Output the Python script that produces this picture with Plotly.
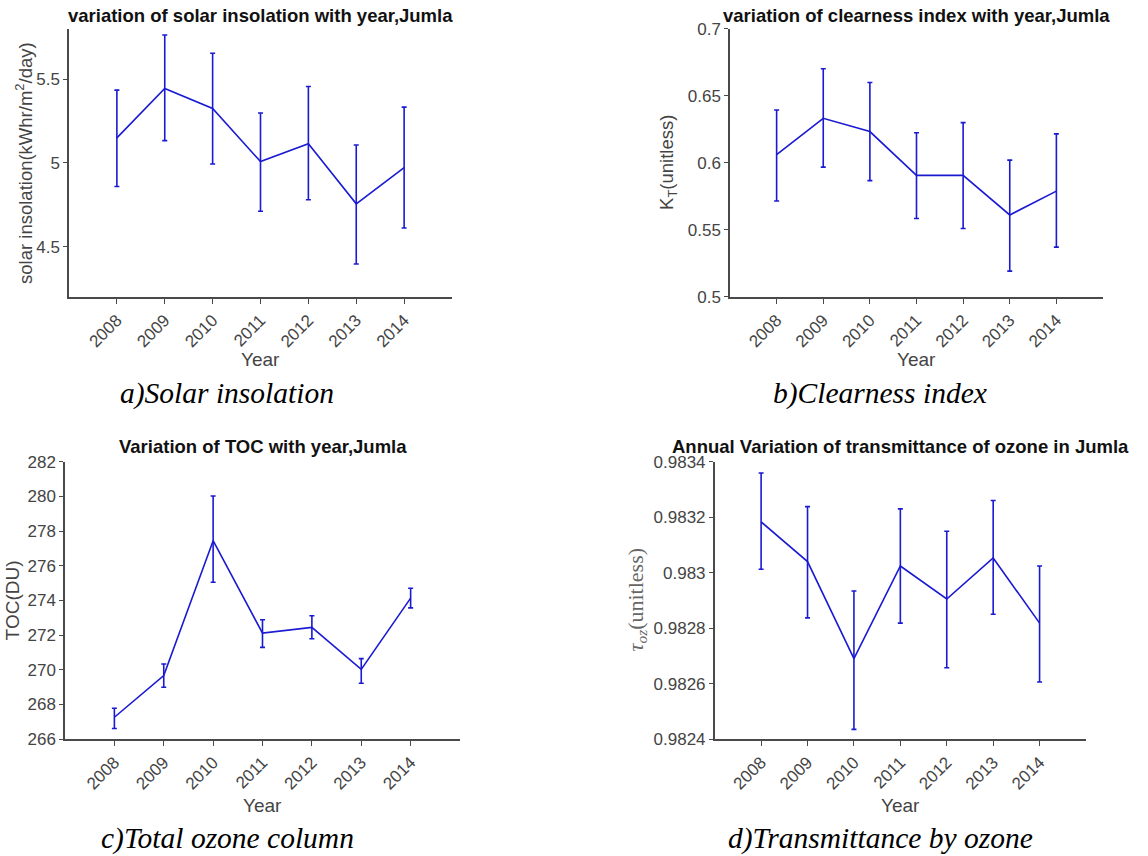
import plotly.graph_objects as go

W, H = 1148, 856

years = [2008, 2009, 2010, 2011, 2012, 2013, 2014]

# a) solar insolation
a_mean = [5.150, 5.445, 5.325, 5.008, 5.115, 4.756, 4.972]
a_upper = [5.435, 5.764, 5.655, 5.298, 5.456, 5.107, 5.333]
a_lower = [4.859, 5.133, 4.994, 4.712, 4.780, 4.397, 4.612]

# b) clearness index
b_mean = [0.6063, 0.6333, 0.6234, 0.5907, 0.5907, 0.5612, 0.5790]
b_upper = [0.6395, 0.6703, 0.6600, 0.6225, 0.6301, 0.6021, 0.6217]
b_lower = [0.5716, 0.5969, 0.5868, 0.5585, 0.5511, 0.5193, 0.5372]

# c) total ozone column
c_mean = [267.26, 269.66, 277.44, 272.11, 272.44, 270.02, 274.13]
c_upper = [267.78, 270.33, 280.02, 272.88, 273.11, 270.64, 274.70]
c_lower = [266.61, 268.99, 275.05, 271.29, 271.79, 269.22, 273.57]

# d) ozone transmittance
d_mean = [0.983183, 0.983040, 0.982690, 0.983024, 0.982905, 0.983053, 0.982818]
d_upper = [0.983359, 0.983238, 0.982934, 0.983230, 0.983149, 0.983260, 0.983024]
d_lower = [0.983012, 0.982837, 0.982435, 0.982818, 0.982657, 0.982850, 0.982606]

a_ticks = [4.5, 5, 5.5]
a_ticktext = ["4.5", "5", "5.5"]
b_ticks = [0.5, 0.55, 0.6, 0.65, 0.7]
b_ticktext = ["0.5", "0.55", "0.6", "0.65", "0.7"]
c_ticks = [266, 268, 270, 272, 274, 276, 278, 280, 282]
c_ticktext = [str(v) for v in c_ticks]
d_ticks = [0.9824, 0.9826, 0.9828, 0.9830, 0.9832, 0.9834]
d_ticktext = ["0.9824", "0.9826", "0.9828", "0.983", "0.9832", "0.9834"]

titles = ["variation of solar insolation with year,Jumla",
          "variation of clearness index with year,Jumla",
          "Variation of TOC with year,Jumla",
          "Annual Variation of transmittance of ozone in Jumla"]
ytitles = ["solar insolation(kWhr/m<sup>2</sup>/day)",
           "K<sub>T</sub>(unitless)",
           "TOC(DU)",
           "<i>τ<sub>oz</sub></i>(unitless)"]
captions = ["a)Solar insolation", "b)Clearness index",
            "c)Total ozone column", "d)Transmittance by ozone"]

BLUE = "#1a1ad2"
AXC = "#4a4a4a"
TXT = "#444444"


def px(x):
    return x / W


def py(y):
    # compensate for the vertical offset/squeeze seen in the photographed page
    ys = (y - 8.0) * H / 840.0
    return 1 - ys / H


# panel boxes in pixels: left, right, top, bottom
boxes = [(69, 452, 28, 297), (730, 1103, 28, 297),
         (65, 460, 462.3, 740.7), (714.7, 1086, 462.3, 740.7)]
series = [(a_mean, a_upper, a_lower), (b_mean, b_upper, b_lower),
          (c_mean, c_upper, c_lower), (d_mean, d_upper, d_lower)]
yranges = [[4.2, 5.8], [0.5, 0.7], [266, 282], [0.9824, 0.9834]]
yticks = [(a_ticks, a_ticktext), (b_ticks, b_ticktext),
          (c_ticks, c_ticktext), (d_ticks, d_ticktext)]
ytitle_x = [24, 668, 12, 637]
SANS = "Liberation Sans, Arial"
ytitle_font = [dict(family=SANS, size=18.5, color=TXT),
               dict(family=SANS, size=18.5, color=TXT),
               dict(family=SANS, size=19, color=TXT),
               dict(family="Liberation Serif, Times New Roman", size=22, color="#666666")]
title_y = [15, 15, 447, 447]
year_y = [360, 360, 807, 807]
cap_y = [394, 394, 840, 840]
cap_x = [227, 880, 227, 880]

fig = go.Figure()
annotations = []
layout = {}
for i in range(4):
    mean, up, lo = series[i]
    sfx = "" if i == 0 else str(i + 1)
    fig.add_trace(go.Scatter(
        x=years, y=mean, mode="lines",
        line=dict(color=BLUE, width=1.6),
        error_y=dict(type="data", symmetric=False,
                     array=[u - m for u, m in zip(up, mean)],
                     arrayminus=[m - l for m, l in zip(mean, lo)],
                     color=BLUE, thickness=1.6, width=2.5),
        xaxis="x" + sfx, yaxis="y" + sfx, showlegend=False))
    L, R, T, B = boxes[i]
    layout["xaxis" + sfx] = dict(
        domain=[px(L), px(R)], anchor="y" + sfx, range=[2007, 2015],
        tickvals=years, ticktext=[str(y) for y in years], tickangle=-45,
        showline=True, linecolor=AXC, linewidth=1.5, ticks="outside",
        ticklen=5, tickcolor=AXC, tickwidth=1.3, showgrid=False, zeroline=False,
        tickfont=dict(family=SANS, size=17, color=TXT))
    tv, tt = yticks[i]
    layout["yaxis" + sfx] = dict(
        domain=[py(B), py(T)], anchor="x" + sfx, range=yranges[i],
        tickvals=tv, ticktext=tt,
        showline=True, linecolor=AXC, linewidth=1.5, ticks="outside",
        ticklen=4, tickcolor=AXC, tickwidth=1.3, showgrid=False, zeroline=False,
        ticklabelstandoff=0,
        tickfont=dict(family=SANS, size=17, color=TXT))
    cx = (L + R) / 2
    annotations.append(dict(text="<b>" + titles[i] + "</b>", x=px(cx), y=py(title_y[i]),
                            xref="paper", yref="paper", showarrow=False,
                            xanchor="center", yanchor="middle",
                            font=dict(family=SANS, size=18.5, color="#111111")))
    annotations.append(dict(text="Year", x=px(cx), y=py(year_y[i]),
                            xref="paper", yref="paper", showarrow=False,
                            xanchor="center", yanchor="middle",
                            font=dict(family=SANS, size=19, color=TXT)))
    annotations.append(dict(text=ytitles[i], x=px(ytitle_x[i]), y=py((T + B) / 2),
                            xref="paper", yref="paper", showarrow=False, textangle=-90,
                            xanchor="center", yanchor="middle", font=ytitle_font[i]))
    annotations.append(dict(text="<i>" + captions[i] + "</i>", x=px(cap_x[i]), y=py(cap_y[i]),
                            xref="paper", yref="paper", showarrow=False,
                            xanchor="center", yanchor="middle",
                            font=dict(family="Liberation Serif, Times New Roman", size=29.5, color="#000000")))

fig.update_layout(**layout)
fig.update_layout(width=W, height=H, margin=dict(l=0, r=0, t=0, b=0),
                  paper_bgcolor="white", plot_bgcolor="white",
                  annotations=annotations)
fig.write_html("out.html", include_plotlyjs=True, full_html=True,
               config={"displayModeBar": False})
